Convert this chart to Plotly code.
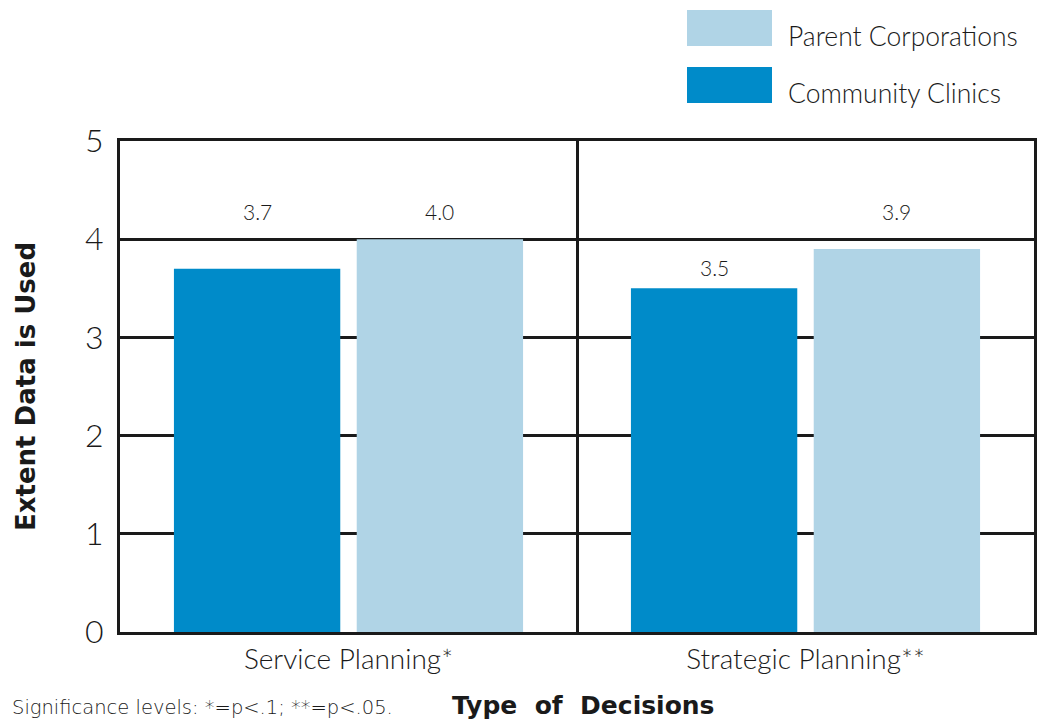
import plotly.graph_objects as go

categories = ["Service Planning*", "Strategic Planning**"]
community_clinics = [3.7, 3.5]
parent_corporations = [4.0, 3.9]
y_ticks = [0, 1, 2, 3, 4, 5]

# heights at which the value labels are printed (layout only)
cc_label_y = [4.28, 3.71]
pc_label_y = [4.28, 4.28]

FONT = "Lato, 'DejaVu Sans', sans-serif"
DARK = "#008BC9"
LIGHT = "#B0D4E6"
INK = "#1a1a1a"

fig = go.Figure()
fig.add_trace(go.Bar(x=categories, y=community_clinics, name="Community Clinics",
                     marker=dict(color=DARK, line=dict(width=0))))
fig.add_trace(go.Bar(x=categories, y=parent_corporations, name="Parent Corporations",
                     marker=dict(color=LIGHT, line=dict(width=0))))

annotations = []
for cat, v, ly in zip(categories, community_clinics, cc_label_y):
    annotations.append(dict(x=cat, y=ly, xref="x", yref="y", text=f"{v:.1f}", showarrow=False,
                            xshift=-91, font=dict(size=21, color=INK, family=FONT, weight=300)))
for cat, v, ly in zip(categories, parent_corporations, pc_label_y):
    annotations.append(dict(x=cat, y=ly, xref="x", yref="y", text=f"{v:.1f}", showarrow=False,
                            xshift=91, font=dict(size=21, color=INK, family=FONT, weight=300)))

# legend (custom, large swatches)
shapes = [
    dict(type="rect", xref="paper", yref="paper", x0=(687-120)/914, x1=(772-120)/914,
         y0=(632-46)/491, y1=(632-10)/491, fillcolor=LIGHT, line=dict(width=0)),
    dict(type="rect", xref="paper", yref="paper", x0=(687-120)/914, x1=(772-120)/914,
         y0=(632-103)/491, y1=(632-67)/491, fillcolor=DARK, line=dict(width=0)),
]
annotations.append(dict(x=(786-120)/914, y=(632-36)/491, xref="paper", yref="paper",
                        text="Parent Corporations", showarrow=False, xanchor="left", yanchor="middle",
                        font=dict(size=26.5, color=INK, family=FONT, weight=300)))
annotations.append(dict(x=(786-120)/914, y=(632-93)/491, xref="paper", yref="paper",
                        text="Community Clinics", showarrow=False, xanchor="left", yanchor="middle",
                        font=dict(size=26.5, color=INK, family=FONT, weight=300)))
# footnote
annotations.append(dict(x=(10-120)/914, y=(632-707)/491, xref="paper", yref="paper",
                        text="Significance levels: *=p<.1; **=p<.05.", showarrow=False,
                        xanchor="left", yanchor="middle",
                        font=dict(size=19.5, color=INK, family="'DejaVu Sans', sans-serif", weight=300)))
# x title
annotations.append(dict(x=(583-120)/914, y=(632-705)/491, xref="paper", yref="paper",
                        text="<b>Type  of  Decisions</b>", showarrow=False,
                        xanchor="center", yanchor="middle",
                        font=dict(size=25, color=INK, family="'DejaVu Sans', sans-serif")))

fig.update_layout(
    width=1039, height=719,
    margin=dict(l=120, r=5, t=141, b=87, autoexpand=False),
    paper_bgcolor="white", plot_bgcolor="white",
    barmode="group", bargap=0.2, bargroupgap=0.09,
    showlegend=False,
    shapes=shapes, annotations=annotations,
    font=dict(family=FONT, color=INK),
)
fig.update_xaxes(
    type="category", tickson="boundaries", showgrid=True, gridcolor=INK, gridwidth=2.5,
    showline=True, linecolor=INK, linewidth=3, mirror=True,
    ticks="", tickfont=dict(size=28, family=FONT, color=INK, weight=300),
)
fig.update_yaxes(
    range=[0, 5], tickvals=y_ticks, showgrid=True, gridcolor=INK, gridwidth=2.5,
    showline=True, linecolor=INK, linewidth=3, mirror=True, zeroline=False,
    ticks="", ticklabelstandoff=7, tickfont=dict(size=32, family=FONT, color=INK, weight=300),
    title=dict(text="<b>Extent Data is Used</b>", standoff=42,
               font=dict(size=26, family="'DejaVu Sans', sans-serif", color=INK)),
)

fig.write_html("out.html", config={"displayModeBar": False},
               post_script="document.body.style.margin='0';")
